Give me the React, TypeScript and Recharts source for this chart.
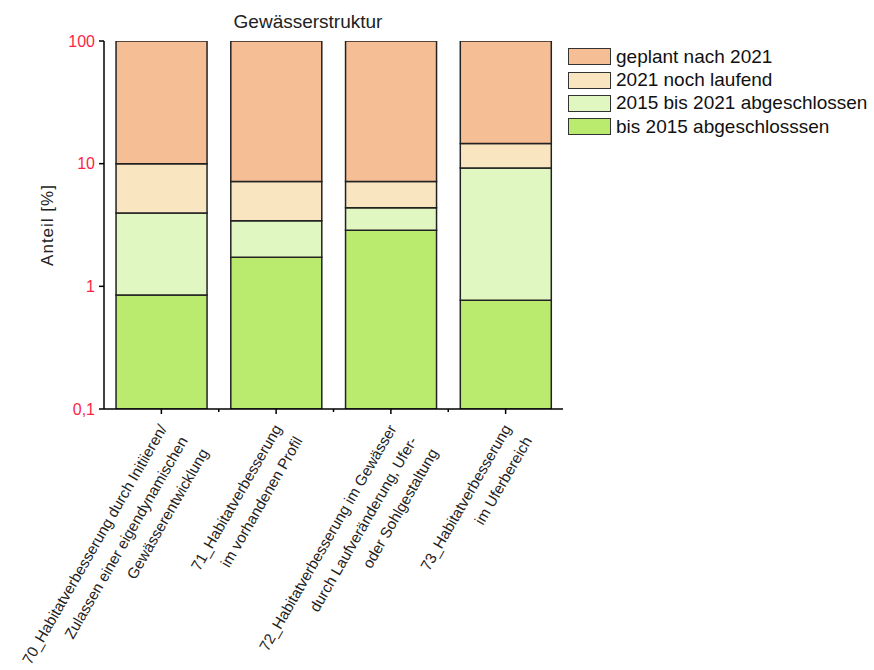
import React from "react";
import { BarChart, Bar, XAxis, YAxis } from "recharts";

// x categories (multi-line labels, joined with \n)
const categories = [
  "70_Habitatverbesserung durch Initiieren/\nZulassen einer eigendynamischen\nGewässerentwicklung",
  "71_Habitatverbesserung\nim vorhandenen Profil",
  "72_Habitatverbesserung im Gewässer\ndurch Laufveränderung, Ufer-\noder Sohlgestaltung",
  "73_Habitatverbesserung\nim Uferbereich",
];

// share in %, stacked (log axis)
const bis2015 = [0.85, 1.73, 2.86, 0.77];
const bis2021 = [3.11, 1.69, 1.51, 8.43];
const laufend = [6.04, 3.75, 2.8, 5.4];
const geplant = [90, 92.83, 92.83, 85.4];

const yTicks = [0.1, 1, 10, 100];

const series = [
  { key: "bis2015", name: "bis 2015 abgeschlosssen", color: "#BBEB6E" },
  { key: "bis2021", name: "2015 bis 2021 abgeschlossen", color: "#E1F7C1" },
  { key: "laufend", name: "2021 noch laufend", color: "#F9E6C1" },
  { key: "geplant", name: "geplant nach 2021", color: "#F6BE94" },
];

const data = categories.map((name, i) => ({
  name,
  bis2015: bis2015[i],
  bis2021: bis2021[i],
  laufend: laufend[i],
  geplant: geplant[i],
}));

const FONT = "Arial, 'Liberation Sans', sans-serif";
const PLOT_W = 459;
const BAND = PLOT_W / categories.length;

// rotated, right-aligned multi-line category label
const XTick = (props: any) => {
  const { x, y, payload, index } = props;
  const lines: string[] = String(payload.value).split("\n");
  return (
    <g>
      {index < categories.length - 1 && (
        <line x1={x + BAND / 2} x2={x + BAND / 2} y1={y - 5} y2={y - 2} stroke="#000" strokeWidth={1.5} />
      )}
      <g transform={`translate(${x},${y + 11}) rotate(-60)`}>
        {lines.map((l, i) => (
          <text
            key={i}
            x={0}
            y={7 + i * 24}
            textAnchor="end"
            fontSize={15.2}
            fontFamily={FONT}
            fill="#222"
          >
            {l}
          </text>
        ))}
      </g>
    </g>
  );
};

const LegendBox = () => (
  <div style={{ position: "absolute", left: 568, top: 45, fontFamily: FONT, fontSize: 19, color: "#111" }}>
    {[...series].reverse().map((s) => (
      <div key={s.key} style={{ display: "flex", alignItems: "center", height: 23.4 }}>
        <div
          style={{
            width: 41,
            height: 15,
            background: s.color,
            border: "1.5px solid #333",
            marginRight: 5,
          }}
        />
        <span style={{ whiteSpace: "nowrap" }}>{s.name}</span>
      </div>
    ))}
  </div>
);

export default function App() {
  return (
    <div style={{ position: "absolute", left: 0, top: 0, width: 874, height: 670, background: "#fff" }}>
      <BarChart
        width={874}
        height={670}
        data={data}
        margin={{ top: 41, right: 311, left: 44, bottom: 11 }}
        barCategoryGap="10.5%"
      >
        <XAxis
          dataKey="name"
          interval={0}
          height={250}
          tickSize={5}
          tickMargin={0}
          tick={<XTick />}
          axisLine={{ stroke: "#000", strokeWidth: 1.5 }}
          tickLine={{ stroke: "#000", strokeWidth: 1.5 }}
        />
        <XAxis
          xAxisId="top"
          orientation="top"
          dataKey="name"
          height={0}
          tick={false}
          tickLine={false}
          axisLine={{ stroke: "#000", strokeWidth: 1.5 }}
        />
        <YAxis
          scale="log"
          domain={[0.1, 100]}
          allowDataOverflow
          ticks={yTicks}
          width={60}
          tickSize={5}
          tickMargin={4}
          tickFormatter={(v: number) => String(v).replace(".", ",")}
          tick={{ fill: "#ff1f46", fontSize: 16, fontFamily: FONT }}
          axisLine={{ stroke: "#000", strokeWidth: 1.5 }}
          tickLine={{ stroke: "#000", strokeWidth: 1.5 }}
        />
        <YAxis
          yAxisId="right"
          orientation="right"
          width={0}
          tick={false}
          tickLine={false}
          axisLine={{ stroke: "#000", strokeWidth: 1.5 }}
        />
        {series.map((s) => (
          <Bar
            key={s.key}
            dataKey={s.key}
            name={s.name}
            stackId="a"
            fill={s.color}
            stroke="#222"
            strokeWidth={1.5}
            isAnimationActive={false}
          />
        ))}
      </BarChart>
      <div
        style={{
          position: "absolute",
          left: 0,
          width: 616,
          top: 11,
          textAlign: "center",
          fontFamily: FONT,
          fontSize: 19,
          color: "#222",
        }}
      >
        Gewässerstruktur
      </div>
      <div
        style={{
          position: "absolute",
          left: 48,
          top: 225,
          transform: "translate(-50%,-50%) rotate(-90deg)",
          fontFamily: FONT,
          fontSize: 17,
          letterSpacing: 1,
          whiteSpace: "nowrap",
          color: "#222",
        }}
      >
        Anteil [%]
      </div>
      <LegendBox />
    </div>
  );
}
